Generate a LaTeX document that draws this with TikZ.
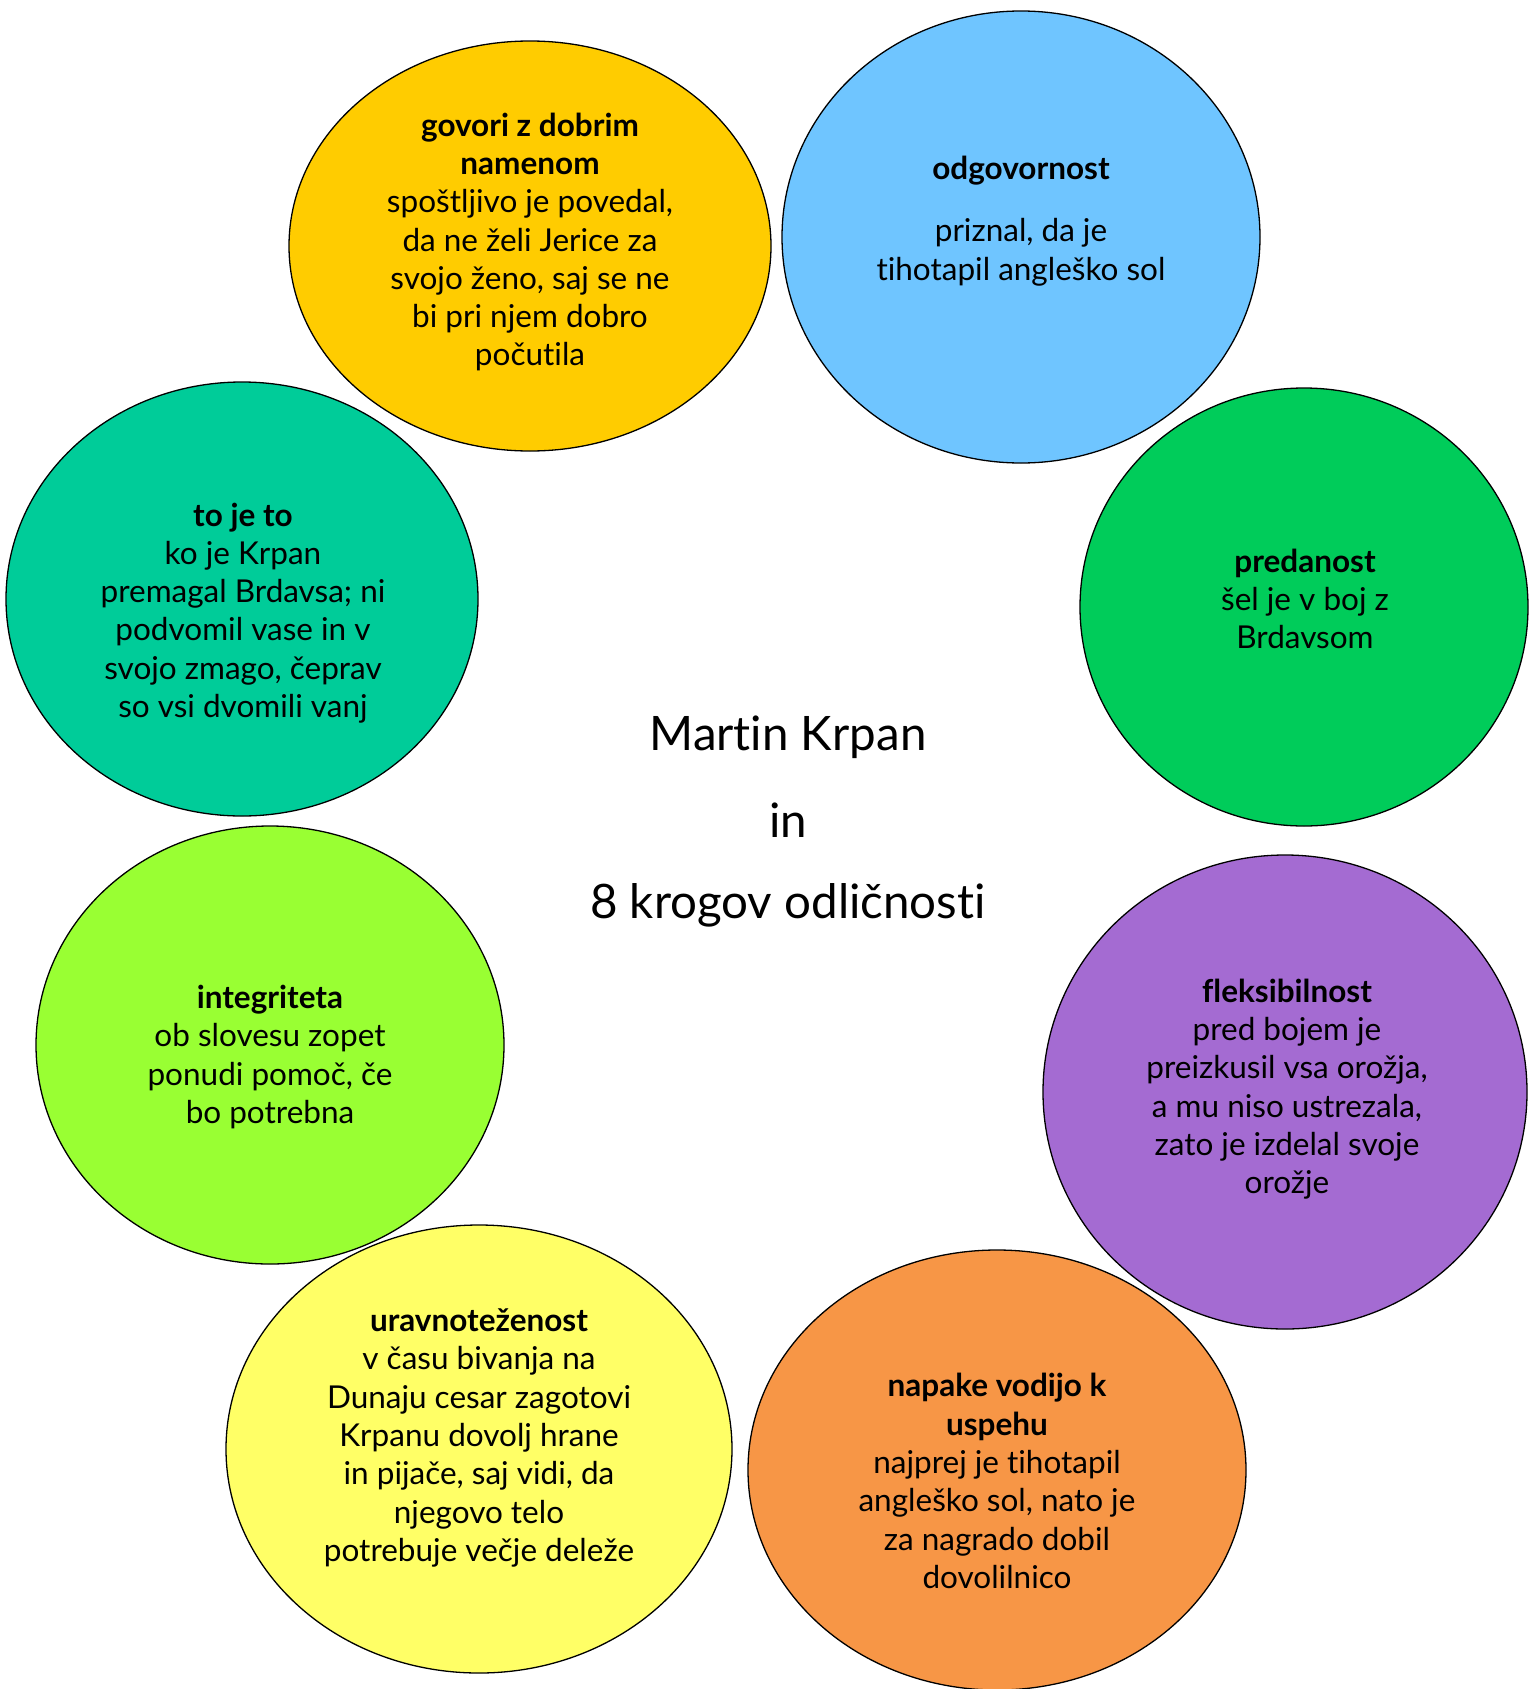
\documentclass[tikz,border=0pt]{standalone}
\usepackage{fontspec}
\setmainfont{Lato}[Ligatures=NoCommon]
\usetikzlibrary{shapes.geometric}
\definecolor{cA}{HTML}{FFCC00}
\definecolor{cB}{HTML}{6FC5FF}
\definecolor{cC}{HTML}{00CC5A}
\definecolor{cD}{HTML}{A46BD2}
\definecolor{cE}{HTML}{F79646}
\definecolor{cF}{HTML}{FFFF66}
\definecolor{cG}{HTML}{99FF33}
\definecolor{cH}{HTML}{00CC99}
\tikzset{
  circ/.style={ellipse, draw=black, line width=1.3pt, inner sep=0pt},
  txt/.style={align=center, inner sep=0pt, font=\fontsize{31.5}{38.3}\selectfont},
  ttl/.style={align=center, inner sep=0pt, font=\fontsize{47.5}{55}\selectfont}
}
\begin{document}
\begin{tikzpicture}[x=1pt,y=-1pt]
\useasboundingbox (0,0) rectangle (1529,1689);
\node[circ, fill=cA, minimum width=482pt, minimum height=410pt] (e1) at (530,246) {};
\node[circ, fill=cB, minimum width=478pt, minimum height=452pt] (e2) at (1021,237) {};
\node[circ, fill=cC, minimum width=448pt, minimum height=438pt] (e3) at (1304,607) {};
\node[circ, fill=cD, minimum width=484pt, minimum height=474pt] (e4) at (1285,1092) {};
\node[circ, fill=cE, minimum width=498pt, minimum height=440pt] (e5) at (997,1470) {};
\node[circ, fill=cF, minimum width=506pt, minimum height=448pt] (e6) at (479,1449) {};
\node[circ, fill=cG, minimum width=468pt, minimum height=438pt] (e7) at (270,1045) {};
\node[circ, fill=cH, minimum width=472pt, minimum height=434pt] (e8) at (242,599) {};

\node[txt] (t1) at (530,242) {\textbf{govori z dobrim}\\\textbf{namenom}\\spoštljivo je povedal,\\da ne želi Jerice za\\svojo ženo, saj se ne\\bi pri njem dobro\\počutila};
\node[txt] (t2) at (1021,221) {\textbf{odgovornost}\\[24pt]priznal, da je\\tihotapil angleško sol};
\node[txt] (t3) at (1305,599) {\textbf{predanost}\\šel je v boj z\\Brdavsom};
\node[txt] (t4) at (1287,1089) {\textbf{fleksibilnost}\\pred bojem je\\preizkusil vsa orožja,\\a mu niso ustrezala,\\zato je izdelal svoje\\orožje};
\node[txt] (t5) at (997,1481) {\textbf{napake vodijo k}\\\textbf{uspehu}\\najprej je tihotapil\\angleško sol, nato je\\za nagrado dobil\\dovolilnico};
\node[txt] (t6) at (479,1438) {\textbf{uravnoteženost}\\v času bivanja na\\Dunaju cesar zagotovi\\Krpanu dovolj hrane\\in pijače, saj vidi, da\\njegovo telo\\potrebuje večje deleže};
\node[txt] (t7) at (270,1057) {\textbf{integriteta}\\ob slovesu zopet\\ponudi pomoč, če\\bo potrebna};
\node[txt] (t8) at (243,613) {\textbf{to je to}\\ko je Krpan\\premagal Brdavsa; ni\\podvomil vase in v\\svojo zmago, čeprav\\so vsi dvomili vanj};

\node[ttl] (m1) at (788,737) {Martin Krpan};
\node[ttl] (m2) at (788,820) {in};
\node[ttl] (m3) at (788,905) {8 krogov odličnosti};
\end{tikzpicture}
\end{document}
